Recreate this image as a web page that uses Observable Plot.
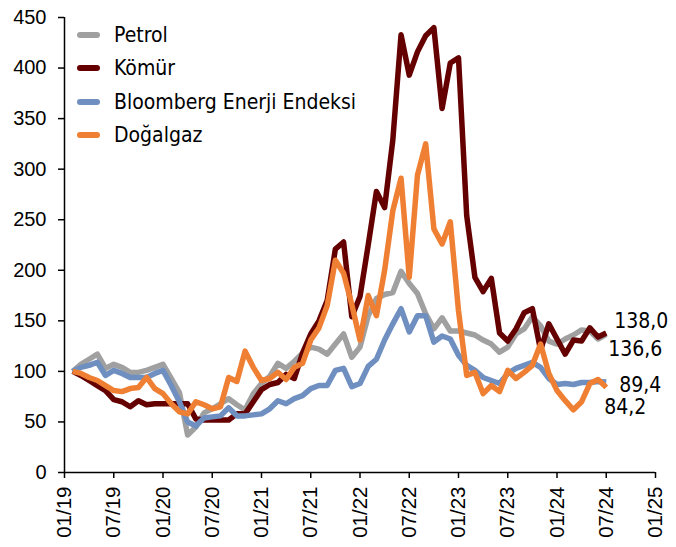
<!DOCTYPE html>
<html><head><meta charset="utf-8">
<script src="https://cdn.jsdelivr.net/npm/d3@7"></script>
<script src="https://cdn.jsdelivr.net/npm/@observablehq/plot@0.6"></script>
<style>
body{margin:0;background:#fff;}
#wrap{position:relative;width:676px;height:547px;}
#legend{position:absolute;left:77px;top:18px;font-family:"DejaVu Sans Condensed","DejaVu Sans",sans-serif;font-stretch:condensed;font-size:21px;color:#000;}
.item{display:flex;align-items:center;height:33.5px;}
.sw{width:23px;height:6px;border-radius:3px;margin-right:14px;}
</style></head><body><div id="wrap"><div id="legend"></div></div>
<script>
// month index counted from 01/2019 (0 = Jan 2019); data runs Feb 2019 - Jul 2024
const monthIndex = d3.range(1, 67);
const tickLabels = ["01/19","07/19","01/20","07/20","01/21","07/21","01/22","07/22","01/23","07/23","01/24","07/24","01/25"];
const yTicks = [0,50,100,150,200,250,300,350,400,450];
const seriesNames = ["Petrol","Kömür","Bloomberg Enerji Endeksi","Doğalgaz"];
const seriesColors = ["#a0a0a0","#650000","#6f8fc0","#ef7f32"];

const petrol = [100,107,112,117,103,107,104,99,99,101,104,107,93,79,37,45,59,63,68,73,67,62,78,88,95,108,103,110,118,124,122,117,127,137,114,124,155,172,176,178,199,187,177,157,142,153,140,140,138,136,131,127,119,124,137,142,154,145,130,127,132,136,141,140,132,136.6];
const komur = [100,96,91,86,81,72,70,65,71,67,68,68,68,68,68,53,52,52,52,52,58,58,70,82,87,89,97,93,118,137,150,170,221,228,154,174,225,278,262,329,433,393,416,432,440,360,405,410,254,193,179,192,138,130,142,158,162,121,147,132,117,131,130,143,134,138.0];
const bloomberg = [100,104,106,109,96,101,98,94,94,94,98,101,86,70,50,46,54,55,56,64,56,56,57,58,63,71,68,73,76,83,86,86,101,103,85,88,105,112,131,147,162,139,155,155,129,135,132,116,106,101,94,91,88,98,103,106,109,104,93,87,88,87,89,89,90,89.4];
const dogalgaz = [100,98,94,91,86,81,80,83,84,94,83,78,68,60,58,70,67,63,65,94,90,120,104,91,93,99,92,104,108,131,143,165,210,197,166,131,175,155,200,259,291,193,294,325,241,226,248,160,96,99,78,86,80,101,93,99,106,127,98,81,71,62,70,88,92,84.2];

const allValues = [petrol, komur, bloomberg, dogalgaz];
const data = allValues.flatMap((vals, s) => monthIndex.map((m, i) => ({m, v: vals[i], s: seriesNames[s]})));
const lastPts = allValues.map((vals, s) => ({m: monthIndex[monthIndex.length-1], v: vals[vals.length-1], s: seriesNames[s]}));
const fmt = v => d3.format(".1f")(v).replace(".", ",");
// label nudges (style only)
const nudges = [{dx:2, dy:15},{dx:8, dy:-12},{dx:13, dy:3},{dx:-2, dy:20}];
const labelFont = "'DejaVu Sans Condensed','DejaVu Sans',sans-serif";

const chart = Plot.plot({
  width: 676, height: 547,
  marginLeft: 64, marginRight: 21, marginTop: 17, marginBottom: 75,
  x: {domain: [0, 72]},
  y: {domain: [0, 450]},
  color: {domain: seriesNames, range: seriesColors},
  style: {fontFamily: "'Liberation Sans', Arial, sans-serif", fontSize: "20px", color: "#000", background: "transparent"},
  marks: [
    Plot.axisY({ticks: yTicks, tickSize: 6, tickPadding: 12, label: null, fontSize: 20, strokeWidth: 1.5}),
    Plot.axisX({ticks: tickLabels.map((d, i) => i * 6), tickFormat: d => tickLabels[d / 6], tickRotate: -90, tickSize: 6, tickPadding: 8, label: null, fontSize: 20.5, strokeWidth: 1.5}),
    Plot.ruleX([0], {stroke: "#000", strokeWidth: 1.5}),
    Plot.ruleY([0], {stroke: "#000", strokeWidth: 1.5}),
    Plot.line(data, {x: "m", y: "v", z: "s", stroke: "s", strokeWidth: 5.5, strokeLinejoin: "round", strokeLinecap: "butt"}),
    ...lastPts.map((p, i) => Plot.text([p], {x: "m", y: "v", text: d => fmt(d.v), textAnchor: "start", dx: nudges[i].dx, dy: nudges[i].dy, fontSize: 21, fontFamily: labelFont, fill: "#000", fontStretch: "condensed"}))
  ]
});
document.getElementById("wrap").prepend(chart);

const legend = document.getElementById("legend");
seriesNames.forEach((n, i) => {
  const it = document.createElement("div"); it.className = "item";
  const sw = document.createElement("div"); sw.className = "sw"; sw.style.background = seriesColors[i];
  const tx = document.createElement("span"); tx.textContent = n;
  it.append(sw, tx); legend.append(it);
});
</script></body></html>
